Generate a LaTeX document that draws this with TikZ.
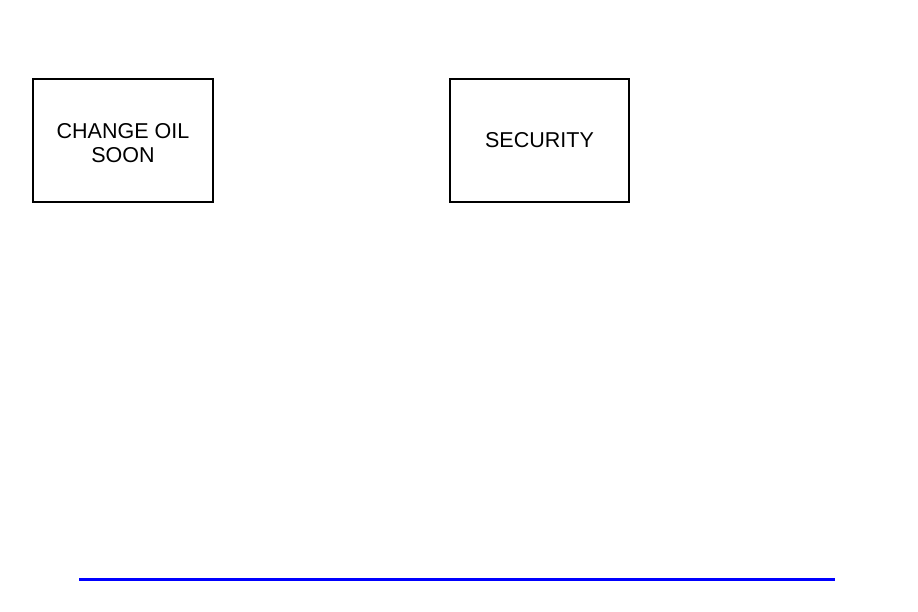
\documentclass[tikz,border=0pt]{standalone}
\usepackage{fontspec}
\setmainfont{Liberation Sans}
\begin{document}
\begin{tikzpicture}[x=1pt,y=-1pt,
  lamp/.style={draw=black, line width=1.1pt, minimum width=180pt, minimum height=123pt, inner sep=0pt, align=center, font=\fontsize{21.5}{24}\selectfont}]
\useasboundingbox (0,0) rectangle (918,612);
\node[lamp] (oil) at (123,140.5) {\rule{0pt}{21pt}CHANGE OIL\\SOON};
\node[lamp, minimum width=179pt] (sec) at (539.5,140.5) {SECURITY};
\coordinate (l1) at (79,579);
\coordinate (l2) at (835,579);
\draw[blue, line width=3pt] (l1) -- (l2);
\end{tikzpicture}
\end{document}
